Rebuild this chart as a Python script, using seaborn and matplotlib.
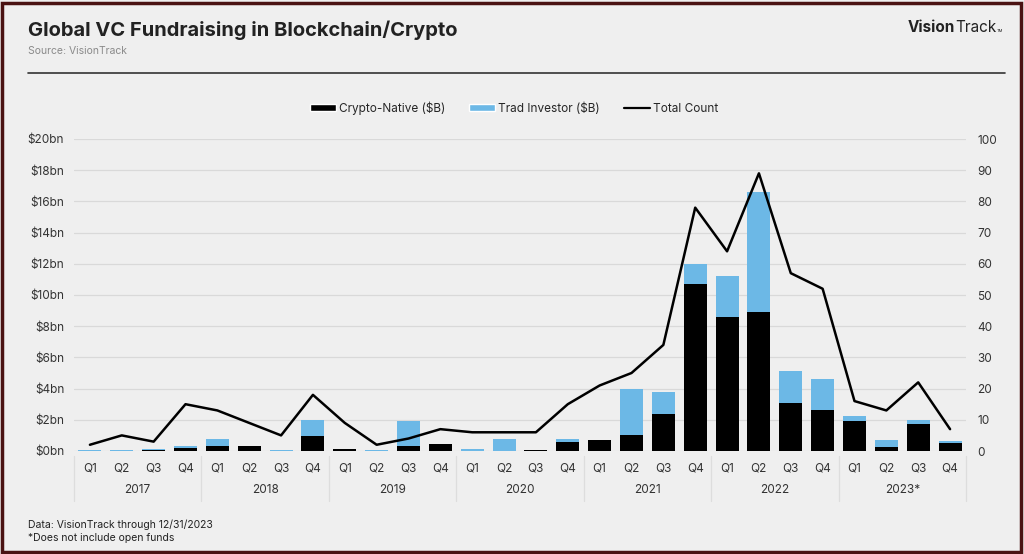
import numpy as np
import pandas as pd
import matplotlib.pyplot as plt
import seaborn as sns
from matplotlib.patches import Patch, Rectangle
from matplotlib.lines import Line2D

# -- data
years = ['2017', '2018', '2019', '2020', '2021', '2022', '2023*']
quarters = ['Q1', 'Q2', 'Q3', 'Q4']
crypto_native = [0.02, 0.02, 0.08, 0.20, 0.30, 0.30, 0.00, 0.95,
                 0.15, 0.00, 0.30, 0.45, 0.00, 0.03, 0.06, 0.60,
                 0.70, 1.00, 2.40, 10.7, 8.60, 8.90, 3.05, 2.60,
                 1.95, 0.28, 1.70, 0.53]
trad_investor = [0.03, 0.04, 0.02, 0.10, 0.50, 0.00, 0.08, 1.05,
                 0.00, 0.05, 1.60, 0.00, 0.10, 0.75, 0.00, 0.20,
                 0.03, 2.95, 1.40, 1.30, 2.60, 7.70, 2.10, 2.00,
                 0.30, 0.45, 0.30, 0.10]
total_count = [2, 5, 3, 15, 13, 9, 5, 18,
               9, 2, 4, 7, 6, 6, 6, 15,
               21, 25, 34, 78, 64, 89, 57, 52,
               16, 13, 22, 7]

df = pd.DataFrame({
    'pos': range(len(total_count)),
    'crypto': crypto_native,
    'trad': trad_investor,
    'count': total_count,
})
df['total'] = df['crypto'] + df['trad']

BG = '#efefef'
BLUE = '#6cb8e6'
FONT = 'Inter'

sns.set_style('white')
plt.rcParams['font.family'] = [FONT, 'DejaVu Sans']

fig = plt.figure(figsize=(10.24, 5.54), dpi=100, facecolor=BG)
ax = fig.add_axes([74 / 1024, 1 - 451 / 554, 892 / 1024, 312 / 554])
ax.set_facecolor(BG)

# stacked bars: full height in blue, crypto-native drawn over it in black
sns.barplot(data=df, x='pos', y='total', color=BLUE, width=0.72,
            saturation=1, linewidth=0, ax=ax, zorder=2)
sns.barplot(data=df, x='pos', y='crypto', color='black', width=0.72,
            saturation=1, linewidth=0, ax=ax, zorder=3)

ax.set_xlim(-0.5, len(df) - 0.5)
ax.set_ylim(0, 20)
ax.set_yticks(range(0, 21, 2))
ax.set_yticklabels([f'${v}bn' for v in range(0, 21, 2)])
ax.yaxis.grid(True, color='#d9d9d9', lw=0.9, zorder=0)
ax.set_axisbelow(True)
ax.set_xticks(range(len(df)))
ax.set_xticklabels(quarters * len(years))
ax.tick_params(axis='both', length=0, labelsize=8.5, colors='#333333')
ax.tick_params(axis='y', pad=7)
ax.tick_params(axis='x', pad=8)
ax.set_xlabel('')
ax.set_ylabel('')
for s in ax.spines.values():
    s.set_visible(False)

# total count line on the right axis
ax2 = ax.twinx()
sns.lineplot(data=df, x='pos', y='count', color='black', lw=1.8, ax=ax2, zorder=4)
ax2.set_ylim(0, 100)
ax2.set_yticks(range(0, 101, 10))
ax2.tick_params(axis='y', length=0, labelsize=8.5, colors='#333333', pad=8)
ax2.set_ylabel('')
for s in ax2.spines.values():
    s.set_visible(False)

# year labels and separators under the quarter ticks
trans = ax.get_xaxis_transform()
for i, yr in enumerate(years):
    ax.text(i * 4 + 1.5, -0.125, yr, transform=trans, ha='center', va='center',
            fontsize=8.5, color='#333333')
for i in range(len(years) + 1):
    ax.plot([i * 4 - 0.5] * 2, [-0.015, -0.16], transform=trans, color='#dddddd',
            lw=0.9, clip_on=False)

# header
fig.text(28 / 1024, 1 - 30 / 554, 'Global VC Fundraising in Blockchain/Crypto',
         fontsize=14.5, fontweight='bold', color='#222222', va='center')
fig.text(28 / 1024, 1 - 51 / 554, 'Source: VisionTrack', fontsize=7.5,
         color='#8a8a8a', va='center')
fig.add_artist(Line2D([28 / 1024, 1005 / 1024], [1 - 73 / 554] * 2,
                      color='#333333', lw=1.2))
logo = fig.text(908 / 1024, 1 - 27 / 554, 'Vision', fontsize=11, fontweight='bold',
                color='#222222', va='center')
track = plt.Annotation('Track', xy=(1, 0.5), xycoords=logo, va='center',
                       fontsize=11, color='#222222')
fig.add_artist(track)
fig.add_artist(plt.Annotation('TM', xy=(1, 0.1), xycoords=track, va='bottom',
                              fontsize=3, color='#222222'))

# legend
handles = [Patch(facecolor='black', label='Crypto-Native ($B)'),
           Patch(facecolor=BLUE, label='Trad Investor ($B)'),
           Line2D([], [], color='black', lw=1.6, label='Total Count')]
fig.legend(handles=handles, loc='center', bbox_to_anchor=(514 / 1024, 1 - 108 / 554),
           ncol=3, frameon=False, fontsize=8.5, handlelength=2.2, handleheight=0.45,
           handletextpad=0.3, columnspacing=2.0)

# footer
fig.text(28 / 1024, 1 - 525 / 554, 'Data: VisionTrack through 12/31/2023',
         fontsize=7.5, color='#222222', va='center')
fig.text(28 / 1024, 1 - 538 / 554, '*Does not include open funds',
         fontsize=7.5, color='#222222', va='center')

# maroon frame
fig.add_artist(Rectangle((0.002, 0.004), 0.995, 0.991, transform=fig.transFigure,
                         fill=False, edgecolor='#4a1212', lw=2.5))

fig.savefig('out.png', dpi=100, facecolor=BG)
